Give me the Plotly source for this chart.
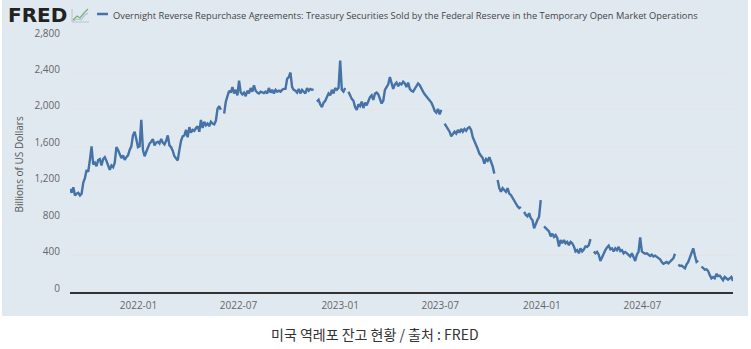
import pandas as pd
import plotly.graph_objects as go

# ---- data -------------------------------------------------------------
series_name = ("Overnight Reverse Repurchase Agreements: Treasury Securities Sold by the "
               "Federal Reserve in the Temporary Open Market Operations")
start_date = "2021-08-30"
step = "3D"   # one reading every three days; None marks a missing observation
rrp_billions = [
    1130, 1090, 1150, 1060, 1080, 1090, 1060, 1080, 1200, 1250,
    1340, 1320, 1450, 1600, 1400, 1420, 1380, 1450, 1460, 1390,
    1460, 1480, 1440, 1390, 1340, 1390, 1370, 1420, 1590, 1560,
    1510, 1470, 1500, 1450, 1480, 1500, 1560, 1600, 1720, 1760,
    1680, 1590, 1600, 1890, 1560, 1490, 1540, 1590, 1630, 1650,
    1680, 1610, 1640, 1650, 1630, 1680, 1640, 1620, 1660, 1720,
    1610, 1590, 1550, 1490, 1470, 1445, 1560, 1660, 1710, 1720,
    1780, 1700, 1810, 1750, 1780, 1770, 1800, 1820, 1760, 1890,
    1800, 1870, 1830, 1850, 1820, 1870, 1850, 1840, 1880, 2010,
    2040, 2000, None, 1960, 2090, 2150, 2210, 2190, 2250, 2180,
    2220, 2160, 2320, 2190, 2170, 2190, 2150, 2210, 2180, 2240,
    2200, 2270, 2210, 2190, 2180, 2200, 2190, 2185, 2200, 2180,
    2240, 2190, 2220, 2180, 2220, 2200, 2210, 2200, 2220, 2230,
    2230, 2340, 2360, 2410, 2250, 2220, 2210, 2190, 2230, 2180,
    2220, 2200, 2180, 2240, 2210, 2230, 2220, 2225, None, 2090,
    2110, 2060, 2030, 2080, 2100, 2140, 2180, 2160, 2220, 2180,
    2240, 2220, 2240, 2540, 2220, 2200, 2240, None, 2200, 2150,
    2120, 2100, 2030, 2000, 2060, 2040, 2090, 2020, 2080, 2050,
    2090, 2140, 2160, 2110, 2180, 2190, 2170, 2130, 2070, 2100,
    2220, 2250, 2280, 2360, 2290, 2230, 2280, 2300, 2260, 2290,
    2280, 2310, 2290, 2250, 2300, 2230, 2210, 2200, 2230, 2260,
    2290, 2270, 2230, 2200, 2170, 2150, 2130, 2110, 2080, 2040,
    1990, 1970, 2010, 1950, 2000, None, 1850, 1820, 1780, 1760,
    1710, 1740, 1760, 1740, 1780, 1750, 1790, 1760, 1790, 1770,
    1800, 1810, 1780, 1700, 1660, 1610, 1570, 1520, 1500, 1470,
    1410, 1460, 1440, 1480, 1430, 1380, 1300, None, 1230, 1140,
    1100, 1140, 1120, 1100, 1140, 1080, 1065, 1030, 1010, 975,
    940, 920, 935, None, 880, 845, 830, 865, 810, 790,
    700, 755, 790, 825, 1010, None, 720, 700, 680, 665,
    610, 640, 605, 625, 590, 500, 570, 535, 570, 535,
    550, 515, 550, 535, 500, 445, 460, 425, 480, 445,
    465, 500, 495, 515, 580, None, 445, 425, 440, 410,
    340, 380, 430, 460, 490, 510, 470, 480, 445, 480,
    460, 495, 450, 460, 425, 440, 425, 410, 390, 425,
    370, 340, 410, 440, 600, 445, 430, 420, 425, 410,
    395, 410, 390, 400, 385, 380, 360, 330, 310, 320,
    330, 315, 330, 345, 370, 420, None, 300, 285, 290,
    270, 260, 305, 330, 380, 430, 480, 400, 330, 345,
    None, 280, 265, 245, 250, 230, 185, 150, 165, 150,
    200, 175, 180, 160, 130, 165, 150, 135, 150, 165,
    120,
]
y_ticks = [0, 400, 800, 1200, 1600, 2000, 2400, 2800]
y_tick_labels = ["0", "400", "800", "1,200", "1,600", "2,000", "2,400", "2,800"]
x_ticks = ["2022-01-01", "2022-07-01", "2023-01-01", "2023-07-01", "2024-01-01", "2024-07-01"]
x_tick_labels = ["2022-01", "2022-07", "2023-01", "2023-07", "2024-01", "2024-07"]
y_title = "Billions of US Dollars"
caption = "미국 역레포 잔고 현황 / 출처 : FRED"

dates = pd.date_range(start_date, periods=len(rrp_billions), freq=step)

# ---- geometry ---------------------------------------------------------
W, H = 751, 349
L, R, T, B = 70, 18, 37, 57
PW, PH = W - L - R, H - T - B


def px(x):
    return (x - L) / PW


def py(y):
    return (H - B - y) / PH


LINE_BLUE = "#4572a7"
PANEL = "#e1e9f0"
FONT = "Open Sans"

fig = go.Figure(
    go.Scatter(
        x=dates, y=rrp_billions, mode="lines",
        line=dict(color=LINE_BLUE, width=2.4),
        connectgaps=False, hoverinfo="skip",
    )
)

shapes = [
    # grey chart panel behind the white plotting area
    dict(type="rect", xref="paper", yref="paper",
         x0=px(2), x1=px(748), y0=py(316), y1=py(0),
         fillcolor=PANEL, line=dict(width=0), layer="below"),
    # legend key
    dict(type="line", xref="paper", yref="paper",
         x0=px(97), x1=px(108), y0=py(14), y1=py(14),
         line=dict(color=LINE_BLUE, width=2.5)),
]


def path(points):
    return "M " + " L ".join(f"{px(a)},{py(b)}" for a, b in points)


# small chart glyph next to the logo
shapes += [
    dict(type="path", xref="paper", yref="paper",
         path=path([(72, 9), (72, 22), (89, 22)]),
         line=dict(color="#b9c4cc", width=1)),
    dict(type="path", xref="paper", yref="paper",
         path=path([(73, 20), (77, 16), (80, 18), (84, 13), (88, 9)]),
         line=dict(color="#7fb069", width=1.3)),
    dict(type="path", xref="paper", yref="paper",
         path=path([(73, 21), (77, 19), (81, 20), (85, 15), (88, 13)]),
         line=dict(color="#9fc3dd", width=1.1)),
]

annotations = [
    dict(text="<b>FRED</b>", x=px(6), y=py(15), xref="paper", yref="paper",
         xanchor="left", yanchor="middle", showarrow=False,
         font=dict(family="DejaVu Sans", size=20, color="#222222")),
    dict(text=series_name, x=px(111), y=py(15), xref="paper", yref="paper",
         xanchor="left", yanchor="middle", showarrow=False,
         font=dict(family=FONT, size=9.3, color="#444444")),
    dict(text=y_title, x=px(18), y=0.5, xref="paper", yref="paper",
         xanchor="center", yanchor="middle", textangle=-90, showarrow=False,
         font=dict(family=FONT, size=10, color="#555555")),
    dict(text=caption, x=px(375), y=py(334), xref="paper", yref="paper",
         xanchor="center", yanchor="middle", showarrow=False,
         font=dict(family="Noto Sans CJK KR", size=14, color="#333333")),
]

fig.update_layout(
    width=W, height=H,
    margin=dict(l=L, r=R, t=T, b=B),
    paper_bgcolor="white", plot_bgcolor="white",
    showlegend=False,
    shapes=shapes, annotations=annotations,
    font=dict(family=FONT, size=10, color="#666666"),
    xaxis=dict(
        range=[dates[0], dates[-1]],
        tickvals=x_ticks, ticktext=x_tick_labels,
        showgrid=False, zeroline=False,
        showline=True, linecolor="#333333", linewidth=2,
        ticks="", tickfont=dict(family=FONT, size=10, color="#666666"),
        ticklabelstandoff=3,
    ),
    yaxis=dict(
        range=[0, 2800],
        tickvals=y_ticks, ticktext=y_tick_labels,
        showgrid=True, gridcolor="#e4e4e4", gridwidth=1,
        zeroline=False, showline=False,
        ticks="", tickfont=dict(family=FONT, size=10, color="#666666"),
        ticklabelstandoff=9, ticklabelshift=-4,
    ),
)

fig.write_html("out.html")
